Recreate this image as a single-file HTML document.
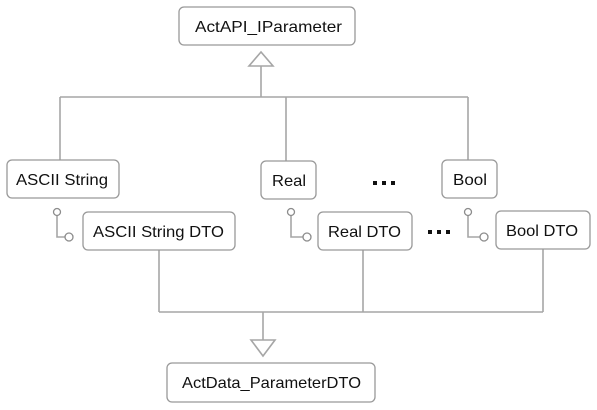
<!DOCTYPE html>
<html><head><meta charset="utf-8"><style>html,body{margin:0;padding:0;background:#fff;}svg{display:block}</style></head>
<body>
<svg width="597" height="410" viewBox="0 0 597 410" xmlns="http://www.w3.org/2000/svg" font-family="Liberation Sans, Arial, sans-serif" font-size="16" fill="#000">
<g stroke="#a6a6a6" stroke-width="1.6" fill="none">
<line x1="261" y1="66" x2="261" y2="97"/>
<line x1="60" y1="97" x2="468" y2="97"/>
<line x1="60" y1="97" x2="60" y2="160"/>
<line x1="286" y1="97" x2="286" y2="161"/>
<line x1="468" y1="97" x2="468" y2="160"/>
<polygon points="261,52 249,66 273,66" fill="#fff"/>
<line x1="159" y1="250" x2="159" y2="312"/>
<line x1="363" y1="250" x2="363" y2="312"/>
<line x1="543" y1="249" x2="543" y2="312"/>
<line x1="159" y1="312" x2="543" y2="312"/>
<line x1="263" y1="312" x2="263" y2="340"/>
<polygon points="251,340 275,340 263,356" fill="#fff"/>
<path d="M57 215 V237 H65"/>
<path d="M291 215 V237 H303"/>
<path d="M468 215 V237 H480"/>
</g>
<g stroke="#8c8c8c" stroke-width="1.3" fill="#fff">
<circle cx="57" cy="212" r="3.5"/><circle cx="69" cy="237" r="4"/>
<circle cx="291" cy="212" r="3.5"/><circle cx="307" cy="237" r="4"/>
<circle cx="468" cy="212" r="3.5"/><circle cx="484" cy="237" r="4"/>
</g>
<g stroke="#999" stroke-width="1.3" fill="#fff">
<rect x="179" y="7" width="176" height="38" rx="5"/>
<rect x="7" y="160" width="112" height="38" rx="5"/>
<rect x="83" y="212" width="152" height="38" rx="5"/>
<rect x="261" y="161" width="55" height="38" rx="5"/>
<rect x="442" y="160" width="55" height="38" rx="5"/>
<rect x="318" y="212" width="94" height="38" rx="5"/>
<rect x="496" y="211" width="94" height="38" rx="5"/>
<rect x="167" y="363" width="208" height="39" rx="5"/>
</g>
<g fill="#111">
<text x="195" y="32" textLength="147" lengthAdjust="spacingAndGlyphs">ActAPI_IParameter</text>
<text x="16" y="185" textLength="92" lengthAdjust="spacingAndGlyphs">ASCII String</text>
<text x="93" y="237" textLength="131" lengthAdjust="spacingAndGlyphs">ASCII String DTO</text>
<text x="272" y="186" textLength="34" lengthAdjust="spacingAndGlyphs">Real</text>
<text x="453" y="185" textLength="34" lengthAdjust="spacingAndGlyphs">Bool</text>
<text x="328" y="237" textLength="73" lengthAdjust="spacingAndGlyphs">Real DTO</text>
<text x="506" y="236" textLength="72" lengthAdjust="spacingAndGlyphs">Bool DTO</text>
<text x="182" y="388" textLength="179" lengthAdjust="spacingAndGlyphs">ActData_ParameterDTO</text>
<rect x="373" y="181" width="4" height="4"/><rect x="382" y="181" width="4" height="4"/><rect x="391" y="181" width="4" height="4"/>
<rect x="428" y="230" width="4" height="4"/><rect x="437" y="230" width="4" height="4"/><rect x="446" y="230" width="4" height="4"/>
</g>
</svg>
</body></html>
